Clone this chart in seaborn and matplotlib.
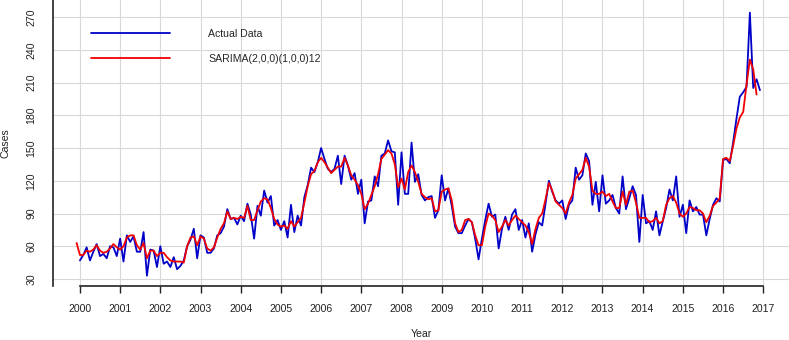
import matplotlib
matplotlib.use("Agg")
import matplotlib.pyplot as plt
import numpy as np
import pandas as pd
import seaborn as sns

# monthly reported cases, Jan 2000 - Dec 2016
actual_2000 = [47, 52, 59, 47, 55, 62, 51, 53, 49, 60, 59, 51]
actual_2001 = [67, 46, 70, 64, 69, 55, 55, 73, 33, 57, 56, 41]
actual_2002 = [60, 44, 46, 41, 50, 39, 42, 47, 60, 66, 76, 49]
actual_2003 = [70, 68, 54, 54, 58, 70, 72, 78, 94, 85, 86, 80]
actual_2004 = [88, 83, 99, 89, 67, 97, 88, 111, 100, 106, 79, 84]
actual_2005 = [75, 83, 68, 98, 73, 88, 79, 105, 116, 132, 128, 137]
actual_2006 = [150, 140, 131, 128, 131, 143, 117, 143, 134, 121, 127, 108]
actual_2007 = [121, 81, 101, 102, 124, 115, 143, 145, 157, 147, 146, 98]
actual_2008 = [146, 108, 108, 155, 119, 126, 107, 102, 105, 106, 86, 93]
actual_2009 = [125, 102, 113, 97, 78, 72, 72, 79, 85, 82, 67, 48]
actual_2010 = [67, 84, 99, 87, 89, 58, 76, 87, 75, 89, 94, 75]
actual_2011 = [84, 68, 81, 55, 71, 82, 79, 99, 120, 110, 102, 99]
actual_2012 = [102, 85, 98, 102, 132, 121, 125, 145, 138, 98, 119, 92]
actual_2013 = [125, 99, 102, 107, 95, 90, 124, 94, 104, 115, 107, 64]
actual_2014 = [107, 81, 83, 75, 92, 70, 83, 95, 112, 102, 124, 87]
actual_2015 = [98, 72, 102, 92, 96, 89, 89, 70, 85, 98, 104, 101]
actual_2016 = [139, 140, 136, 155, 177, 197, 201, 206, 274, 205, 213, 203]

# SARIMA fitted values, drawn one month earlier (Dec 1999 - Nov 2016)
fitted_1999 = [63]
fitted_2000 = [52, 52, 56, 55, 57, 61, 56, 54, 55, 58, 62, 59]
fitted_2001 = [57, 60, 68, 70, 70, 61, 57, 63, 49, 56, 56, 51]
fitted_2002 = [54, 54, 50, 47, 46, 46, 46, 45, 60, 68, 69, 61]
fitted_2003 = [69, 67, 58, 56, 59, 68, 76, 81, 92, 85, 86, 85]
fitted_2004 = [87, 86, 97, 84, 84, 93, 101, 104, 103, 95, 85, 80]
fitted_2005 = [78, 79, 76, 83, 78, 82, 86, 100, 115, 126, 129, 137]
fitted_2006 = [141, 137, 132, 127, 130, 133, 133, 141, 134, 125, 121, 116]
fitted_2007 = [108, 94, 99, 107, 115, 126, 140, 144, 148, 145, 135, 114]
fitted_2008 = [122, 112, 128, 134, 128, 119, 108, 105, 103, 104, 92, 93]
fitted_2009 = [110, 112, 113, 102, 81, 73, 75, 84, 85, 82, 70, 61]
fitted_2010 = [61, 78, 90, 88, 84, 73, 78, 84, 79, 84, 88, 85]
fitted_2011 = [82, 79, 73, 62, 76, 86, 90, 103, 118, 111, 101, 98]
fitted_2012 = [95, 90, 100, 107, 122, 126, 130, 141, 133, 111, 108, 108]
fitted_2013 = [110, 106, 108, 101, 95, 95, 110, 98, 110, 111, 100, 86]
fitted_2014 = [86, 86, 82, 83, 86, 81, 83, 98, 104, 106, 100, 90]
fitted_2015 = [87, 90, 96, 95, 93, 93, 90, 82, 88, 97, 100, 104]
fitted_2016 = [140, 141, 138, 152, 168, 178, 183, 208, 231, 222, 199]

YEAR_TICKS = list(range(2000, 2018))
CASE_TICKS = list(range(30, 271, 30))
LABEL_ACTUAL = "Actual Data"
LABEL_MODEL = "SARIMA(2,0,0)(1,0,0)12"
FS = 7.6


def main() -> int:
    actual = (actual_2000 + actual_2001 + actual_2002 + actual_2003 + actual_2004
              + actual_2005 + actual_2006 + actual_2007 + actual_2008 + actual_2009
              + actual_2010 + actual_2011 + actual_2012 + actual_2013 + actual_2014
              + actual_2015 + actual_2016)
    fitted = (fitted_1999 + fitted_2000 + fitted_2001 + fitted_2002 + fitted_2003
              + fitted_2004 + fitted_2005 + fitted_2006 + fitted_2007 + fitted_2008
              + fitted_2009 + fitted_2010 + fitted_2011 + fitted_2012 + fitted_2013
              + fitted_2014 + fitted_2015 + fitted_2016)

    df_act = pd.DataFrame({"time": 2000 + np.arange(len(actual)) / 12, "cases": actual})
    df_fit = pd.DataFrame({"time": 2000 - 1 / 12 + np.arange(len(fitted)) / 12, "cases": fitted})

    sns.set_theme(style="white")
    plt.rcParams["font.family"] = ["Liberation Sans", "DejaVu Sans"]

    fig = plt.figure(figsize=(7.89, 3.40), dpi=100)
    ax = fig.add_axes([53 / 789, 54 / 340, 736 / 789, 286 / 340])

    for x in YEAR_TICKS:
        ax.axvline(x, color="#d8d8d8", lw=0.8, zorder=0)
    for y in CASE_TICKS:
        ax.axhline(y, color="#d8d8d8", lw=0.8, zorder=0)

    sns.lineplot(data=df_act, x="time", y="cases", ax=ax, color="#0000c8",
                 lw=1.3, label=LABEL_ACTUAL, sort=False)
    sns.lineplot(data=df_fit, x="time", y="cases", ax=ax, color="#f00000",
                 lw=1.3, label=LABEL_MODEL, sort=False)

    ax.set_xlim(1999.33, 2017.64)
    ax.set_ylim(23.6, 285.6)
    ax.set_xticks(YEAR_TICKS)
    ax.set_yticks(CASE_TICKS)
    ax.tick_params(axis="x", length=5, width=1.0, color="#222222", pad=8,
                   labelsize=FS, labelcolor="#222222", bottom=True)
    ax.tick_params(axis="y", length=0, pad=12, labelsize=FS,
                   labelcolor="#222222", labelrotation=90)
    for lbl in ax.get_yticklabels():
        lbl.set_va("center")

    for side in ("top", "right"):
        ax.spines[side].set_visible(False)
    ax.spines["left"].set_color("#222222")
    ax.spines["left"].set_linewidth(1.2)
    ax.spines["bottom"].set_color("#222222")
    ax.spines["bottom"].set_linewidth(1.2)
    ax.spines["bottom"].set_bounds(2000, 2017)

    ax.set_xlabel("Year", fontsize=FS, color="#222222", va="center")
    ax.xaxis.set_label_coords(0.5, -48 / 286)
    ax.set_ylabel("Cases", fontsize=FS, color="#222222", va="center")
    ax.yaxis.set_label_coords(-47 / 736, 0.5)

    ax.legend(loc="upper left", bbox_to_anchor=(38 / 736, 1 - 29 / 286),
              frameon=False, fontsize=FS, handlelength=7.5, handletextpad=3.6,
              labelspacing=1.4, borderpad=0, borderaxespad=0)

    fig.savefig("out.png", dpi=100)
    plt.close(fig)
    return 0


if __name__ == "__main__":
    raise SystemExit(main())
